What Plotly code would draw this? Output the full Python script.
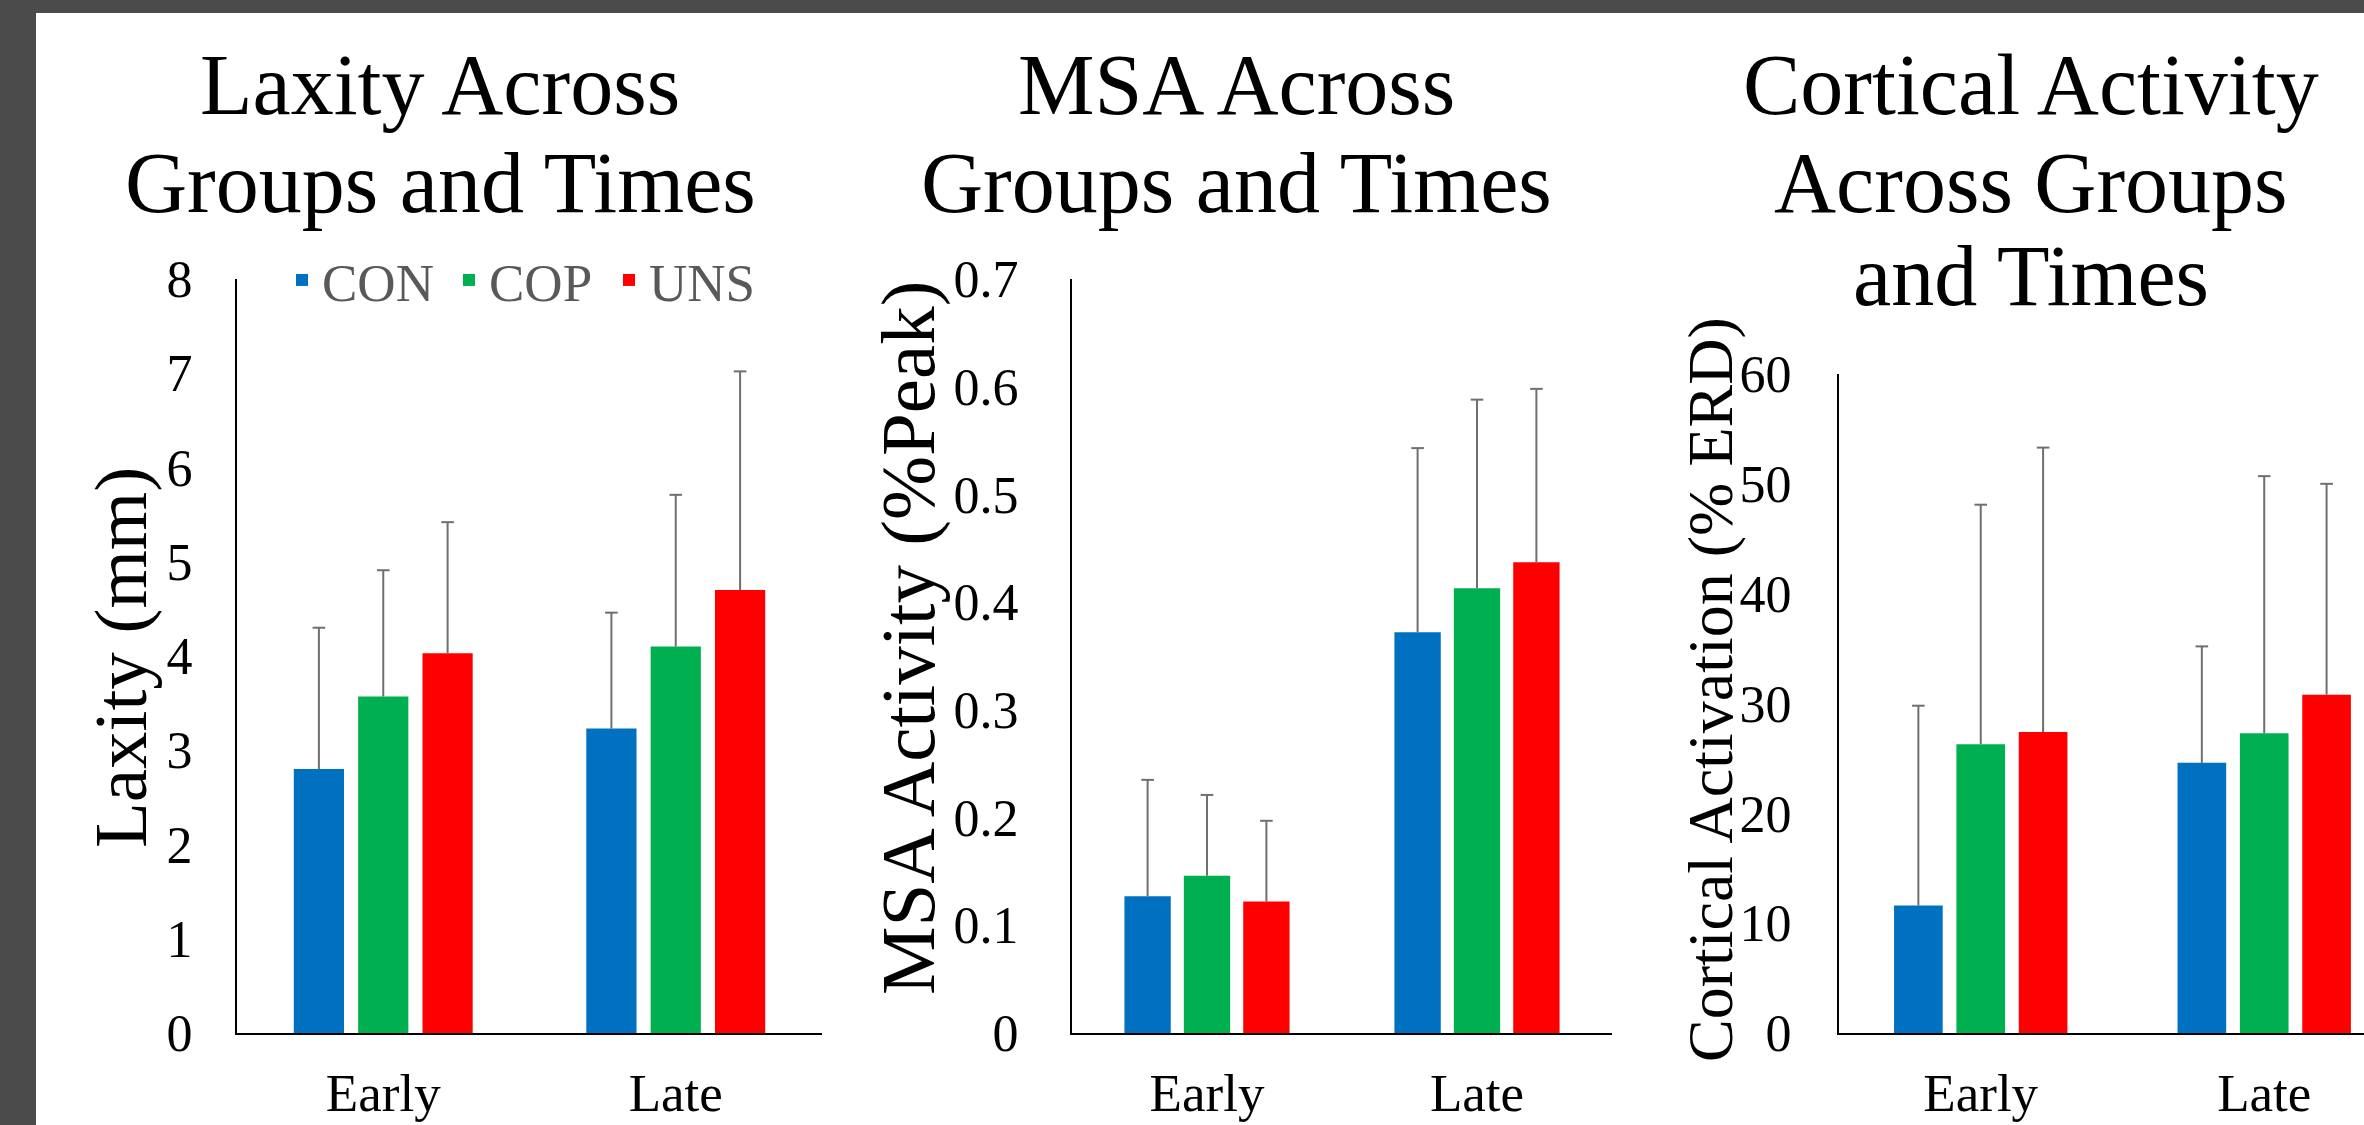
import plotly.graph_objects as go

W, H = 2364, 1125
FONT = "'Liberation Serif', 'Times New Roman', Tinos, 'DejaVu Serif', serif"

times = ["Early", "Late"]
groups = ["CON", "COP", "UNS"]
group_colors = ["#0070C0", "#00B050", "#FF0000"]

# Laxity (mm)
laxity_con = [2.80, 3.23]
laxity_cop = [3.57, 4.10]
laxity_uns = [4.03, 4.70]
laxity_con_sd = [1.50, 1.23]
laxity_cop_sd = [1.34, 1.61]
laxity_uns_sd = [1.39, 2.32]

# MSA activity (%Peak)
msa_con = [0.127, 0.372]
msa_cop = [0.146, 0.413]
msa_uns = [0.122, 0.437]
msa_con_sd = [0.108, 0.171]
msa_cop_sd = [0.075, 0.175]
msa_uns_sd = [0.075, 0.161]

# Cortical activation (% ERD)
cort_con = [11.6, 24.6]
cort_cop = [26.3, 27.3]
cort_uns = [27.4, 30.8]
cort_con_sd = [18.2, 10.6]
cort_cop_sd = [21.8, 23.4]
cort_uns_sd = [25.9, 19.2]

laxity_ticks = [0, 1, 2, 3, 4, 5, 6, 7, 8]
msa_ticks = [0, 0.1, 0.2, 0.3, 0.4, 0.5, 0.6, 0.7]
msa_ticklabels = ["0", "0.1", "0.2", "0.3", "0.4", "0.5", "0.6", "0.7"]
cort_ticks = [0, 10, 20, 30, 40, 50, 60]

panels = [
    ("x", "y", [laxity_con, laxity_cop, laxity_uns], [laxity_con_sd, laxity_cop_sd, laxity_uns_sd], True),
    ("x2", "y2", [msa_con, msa_cop, msa_uns], [msa_con_sd, msa_cop_sd, msa_uns_sd], False),
    ("x3", "y3", [cort_con, cort_cop, cort_uns], [cort_con_sd, cort_cop_sd, cort_uns_sd], False),
]
legend_widths = [122, 115, None]
ERR_COLOR = "#6f6f6f"

fig = go.Figure()
for xa, ya, means, sds, show in panels:
    # bars with the upward error line (no caps, so nothing is drawn on the bar top)
    for g, col, m, s, lw in zip(groups, group_colors, means, sds, legend_widths):
        fig.add_trace(go.Bar(
            x=times, y=m, name=g, legendgroup=g, showlegend=show, legendwidth=lw,
            marker=dict(color=col, line=dict(width=0)),
            error_y=dict(type="data", symmetric=False, array=s, arrayminus=[0] * len(s),
                         color=ERR_COLOR, thickness=2, width=0),
            xaxis=xa, yaxis=ya,
        ))
    # caps at the top of each error line, grouped like the bars
    for g, m, s in zip(groups, means, sds):
        fig.add_trace(go.Scatter(
            x=times, y=[a + b for a, b in zip(m, s)], mode="markers", name=g + " SD",
            legendgroup=g, showlegend=False, hoverinfo="skip", cliponaxis=False,
            marker=dict(symbol="line-ew", size=9, color=ERR_COLOR,
                        line=dict(color=ERR_COLOR, width=2)),
            xaxis=xa, yaxis=ya,
        ))

def px_x(v):
    return v / W

def px_y(v):
    return 1 - v / H

axis_common = dict(showline=True, linecolor="black", linewidth=2, ticks="", automargin=False,
                   showgrid=False, zeroline=False)
ytickfont = dict(family=FONT, size=52, color="black")
xtickfont = dict(family=FONT, size=53, color="black")

ybot = px_y(1033)
layout_axes = dict(
    xaxis=dict(domain=[px_x(237), px_x(822)], anchor="y", type="category", range=[-0.5, 1.5],
               ticklabelstandoff=12, tickfont=xtickfont, **axis_common),
    yaxis=dict(domain=[ybot, px_y(279)], anchor="x", range=[0, 8], tickvals=laxity_ticks,
               ticklabelstandoff=32, tickfont=ytickfont, **axis_common),
    xaxis2=dict(domain=[px_x(1072), px_x(1612)], anchor="y2", type="category", range=[-0.5, 1.5],
                ticklabelstandoff=12, tickfont=xtickfont, **axis_common),
    yaxis2=dict(domain=[ybot, px_y(279)], anchor="x2", range=[0, 0.7], tickvals=msa_ticks,
                ticktext=msa_ticklabels, ticklabelstandoff=41, tickfont=ytickfont, **axis_common),
    xaxis3=dict(domain=[px_x(1839), 1.0], anchor="y3", type="category", range=[-0.5, 1.352],
                ticklabelstandoff=12, tickfont=xtickfont, **axis_common),
    yaxis3=dict(domain=[ybot, px_y(374)], anchor="x3", range=[0, 60], tickvals=cort_ticks,
                ticklabelstandoff=35, tickfont=ytickfont, **axis_common),
)

annotations = []

# chart titles, one annotation per line
titles = [
    (440, ["Laxity Across", "Groups and Times"]),
    (1236, ["MSA Across", "Groups and Times"]),
    (2031, ["Cortical Activity", "Across Groups", "and Times"]),
]
baselines = [113, 211, 304]
for cx, lines in titles:
    for line, bl in zip(lines, baselines):
        annotations.append(dict(text=line, x=px_x(cx), y=px_y(bl - 28), xref="paper", yref="paper",
                                xanchor="center", yanchor="middle", showarrow=False,
                                font=dict(family=FONT, size=86, color="black")))

# rotated y-axis titles
ytitles = [
    ("Laxity (mm)", 120, 658, 75),
    ("MSA Activity (%Peak)", 908, 638, 77),
    ("Cortical Activation (% ERD)", 1710, 690, 64),
]
for text, cx, cy, fs in ytitles:
    annotations.append(dict(text=text, x=px_x(cx), y=px_y(cy), xref="paper", yref="paper",
                            xanchor="center", yanchor="middle", textangle=-90, showarrow=False,
                            font=dict(family=FONT, size=fs, color="black")))

shapes = [
    dict(type="rect", xref="paper", yref="paper", x0=0, x1=36 / W, y0=0, y1=1,
         fillcolor="#4b4b4b", line=dict(width=0), layer="above"),
    dict(type="rect", xref="paper", yref="paper", x0=0, x1=1, y0=1 - 13 / H, y1=1,
         fillcolor="#4b4b4b", line=dict(width=0), layer="above"),
]

fig.update_layout(
    width=W, height=H,
    margin=dict(l=0, r=0, t=0, b=0, pad=0, autoexpand=False),
    paper_bgcolor="white", plot_bgcolor="white",
    barmode="group", bargap=0.34, bargroupgap=0.22,
    scattermode="group", scattergap=0.34,
    font=dict(family=FONT, color="black"),
    legend=dict(orientation="h", x=px_x(282), y=px_y(280), xanchor="left", yanchor="middle",
                font=dict(family=FONT, size=53, color="#595959"), bgcolor="rgba(0,0,0,0)",
                itemwidth=30, tracegroupgap=0),
    annotations=annotations,
    shapes=shapes,
    **layout_axes,
)

fig.write_html("out.html", config={"displayModeBar": False},
               post_script="document.body.style.margin='0';document.body.style.overflow='hidden';")
